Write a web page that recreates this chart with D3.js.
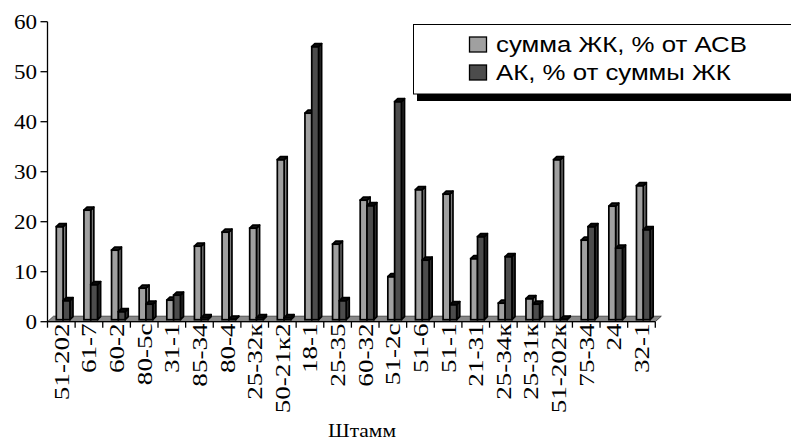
<!DOCTYPE html>
<html>
<head>
<meta charset="utf-8">
<script src="https://cdn.jsdelivr.net/npm/d3@7"></script>
<style>
  html, body { margin: 0; padding: 0; background: #fff; }
  svg { display: block; }
</style>
</head>
<body>
<svg id="chart" width="791" height="441"></svg>
<script>
// Strains (x axis)
const strains = ["51-202", "61-7", "60-2", "80-5с", "31-1", "85-34", "80-4", "25-32к",
  "50-21к2", "18-1", "25-35", "60-32", "51-2с", "51-6", "51-1", "21-31",
  "25-34к", "25-31к", "51-202к", "75-34", "24", "32-1"];

// Total fatty acids, % of dry biomass
const fattySum = [19.0, 22.3, 14.3, 6.7, 4.3, 15.1, 17.9, 18.7,
  32.4, 41.7, 15.5, 24.3, 9.0, 26.4, 25.5, 12.6,
  3.7, 4.6, 32.4, 16.3, 23.1, 27.2];

// Arachidonic acid, % of total fatty acids
const arachidonic = [4.2, 7.4, 2.0, 3.5, 5.3, 0.8, 0.3, 0.8,
  0.8, 55.0, 4.2, 23.2, 44.0, 12.3, 3.4, 17.0,
  13.0, 3.5, 0.3, 19.0, 14.7, 18.4];

const seriesNames = ["сумма ЖК, % от АСВ", "АК, % от суммы ЖК"];
const yTicks = [0, 10, 20, 30, 40, 50, 60];
const xTitle = "Штамм";

const svg = d3.select("#chart");

const x = d3.scaleBand().domain(strains).range([47.5, 655.3]).padding(0);
const y = d3.scaleLinear().domain([0, 60]).range([321.7, 21.7]);

const depth = 3.1;      // bar depth offset
const floorDx = 6, floorDy = 5.5;
const barW = 6.8;
const offsets = [8.8, 15.6];
const outline = 1.7;

const palette = [
  { front: "#a0a0a0", side: "#7a7a7a", top: "#151515" },
  { front: "#4c4c4c", side: "#2a2a2a", top: "#0d0d0d" }
];

// Floor
const x0 = x.range()[0], x1 = x.range()[1], yb = y(0);
svg.append("polygon")
  .attr("points", [[x0, yb], [x1, yb], [x1 + floorDx, yb - floorDy], [x0 + floorDx, yb - floorDy]].join(" "))
  .attr("fill", "#888").attr("stroke", "#333").attr("stroke-width", 0.8);

// Value axis
const yAxis = svg.append("g");
yAxis.append("line").attr("x1", x0).attr("x2", x0).attr("y1", y(60)).attr("y2", y(0))
  .attr("stroke", "#000").attr("stroke-width", 1.3);
yAxis.selectAll("line.tick").data(yTicks).join("line").attr("class", "tick")
  .attr("x1", x0 - 7).attr("x2", x0).attr("y1", d => y(d)).attr("y2", d => y(d))
  .attr("stroke", "#000").attr("stroke-width", 1.3);
yAxis.selectAll("text").data(yTicks).join("text")
  .attr("transform", d => `translate(37,${y(d) + 7}) scale(1.1,1)`)
  .attr("text-anchor", "end")
  .attr("font-family", "'Liberation Serif', 'Times New Roman', serif")
  .attr("font-size", 21).attr("fill", "#000")
  .text(d => d);

// Category axis front edge and ticks
svg.append("line").attr("x1", x0).attr("x2", x1).attr("y1", yb).attr("y2", yb)
  .attr("stroke", "#000").attr("stroke-width", 1.3);
const bounds = strains.map(s => x(s)).concat([x1]);
svg.selectAll("line.xtick").data(bounds).join("line").attr("class", "xtick")
  .attr("x1", d => d).attr("x2", d => d).attr("y1", yb).attr("y2", yb + 6)
  .attr("stroke", "#000").attr("stroke-width", 1.3);

// Bars
const series = [fattySum, arachidonic];
const bars = [];
strains.forEach((s, i) => {
  series.forEach((vals, k) => bars.push({ s, k, v: vals[i] }));
});
const base = yb - 2;
const g = svg.append("g");
const barG = g.selectAll("g.bar").data(bars).join("g").attr("class", "bar");
barG.each(function (d) {
  const el = d3.select(this);
  const bx0 = x(d.s) + offsets[d.k], bx1 = bx0 + barW, yt = Math.min(y(d.v), base - 0.5);
  const c = palette[d.k];
  el.append("polygon")
    .attr("points", [[bx1, base], [bx1 + depth, base - depth], [bx1 + depth, yt - depth], [bx1, yt]].join(" "))
    .attr("fill", c.side).attr("stroke", "#000").attr("stroke-width", outline).attr("stroke-linejoin", "round");
  el.append("rect")
    .attr("x", bx0).attr("y", yt).attr("width", barW).attr("height", base - yt)
    .attr("fill", c.front).attr("stroke", "#000").attr("stroke-width", outline);
  el.append("polygon")
    .attr("points", [[bx0, yt], [bx0 + depth, yt - depth], [bx1 + depth, yt - depth], [bx1, yt]].join(" "))
    .attr("fill", c.top).attr("stroke", "#000").attr("stroke-width", outline).attr("stroke-linejoin", "round");
});

// Category labels
svg.selectAll("text.cat").data(strains).join("text").attr("class", "cat")
  .attr("transform", d => `translate(${x(d) + x.bandwidth() / 2 + 7.5},323.5) rotate(-90) scale(1.26,1)`)
  .attr("text-anchor", "end")
  .attr("font-family", "'Liberation Serif', 'Times New Roman', serif")
  .attr("font-size", 21.5).attr("fill", "#000")
  .text(d => d);

// Axis title
svg.append("text")
  .attr("transform", "translate(362,437) scale(1.1,1)")
  .attr("text-anchor", "middle")
  .attr("font-family", "'Liberation Serif', 'Times New Roman', serif")
  .attr("font-size", 19.5).attr("fill", "#000")
  .text(xTitle);

// Legend
const leg = svg.append("g");
leg.append("rect").attr("x", 417).attr("y", 94).attr("width", 400).attr("height", 7).attr("fill", "#000");
leg.append("rect").attr("x", 413.5).attr("y", 24.5).attr("width", 400).attr("height", 69.5)
  .attr("fill", "#fff").attr("stroke", "#000").attr("stroke-width", 1);
seriesNames.forEach((name, k) => {
  const yy = [52, 80][k];
  leg.append("rect").attr("x", 469.5).attr("y", yy - 15).attr("width", 17).attr("height", 15)
    .attr("fill", palette[k].front).attr("stroke", "#000").attr("stroke-width", 1.3);
  leg.append("text")
    .attr("transform", `translate(496,${yy}) scale(1.2,1)`)
    .attr("font-family", "'Liberation Sans', Arial, sans-serif")
    .attr("font-size", 21.5).attr("fill", "#000")
    .text(name);
});
</script>
</body>
</html>
